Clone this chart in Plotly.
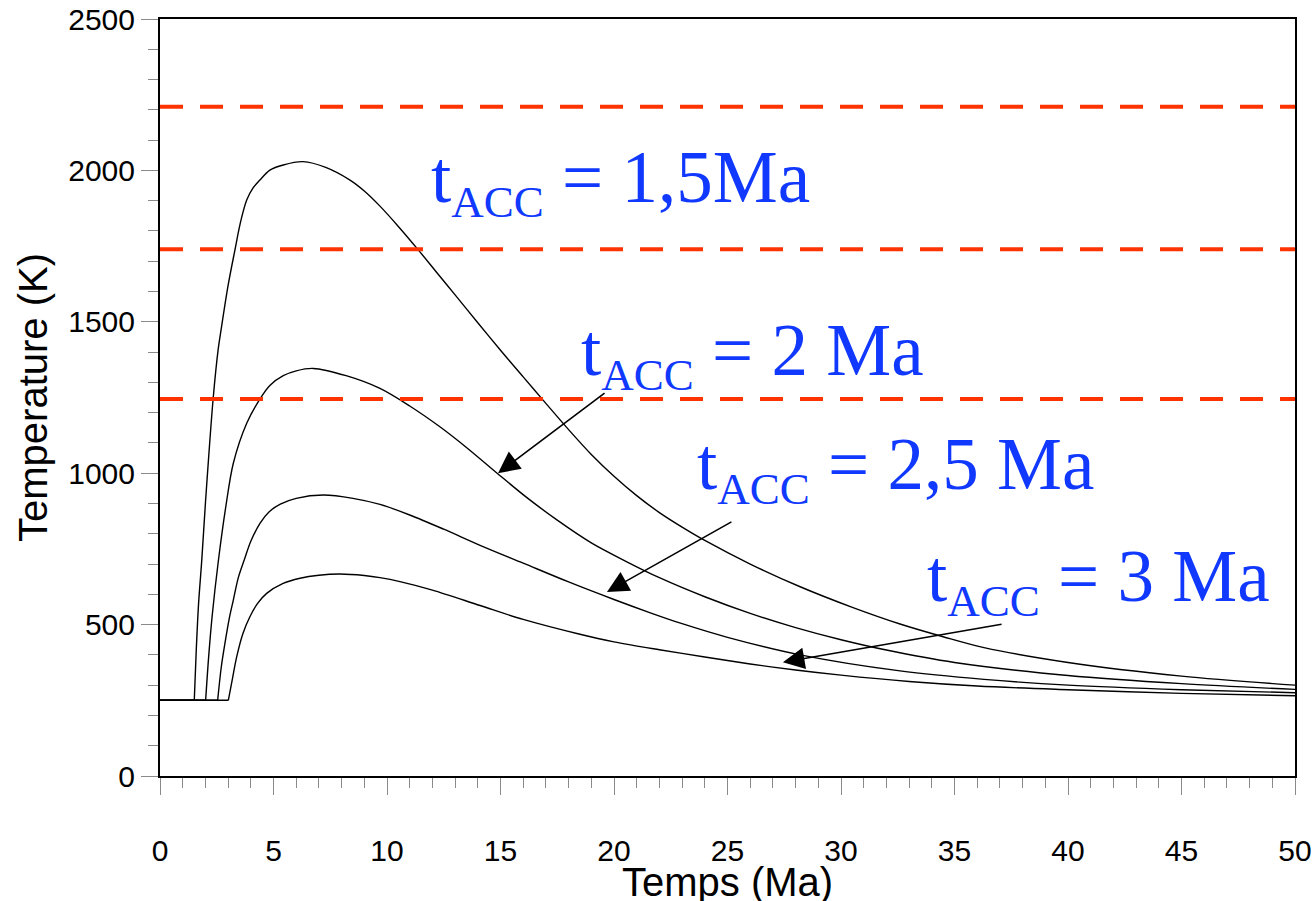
import plotly.graph_objects as go

# Thermal histories (time in Ma, temperature in K) for four accretion times
t_15 = [0, 1.51, 1.6, 1.7, 1.84, 2.0, 2.15, 2.34, 2.56, 2.69, 3.0, 3.3, 3.55, 3.82, 4.1, 4.4, 4.84, 5.43, 6.3,
        7.3, 8.37, 9.0, 9.69, 10.5, 11.35, 12.2, 13, 14, 15, 16, 16.8, 18, 19, 20, 21, 22, 23, 24,
        26, 28.2, 30.5, 32.6, 34.5, 36.3, 40, 45, 50]
T_15 = [250, 250, 420, 570, 713, 900, 1060, 1245, 1407, 1473, 1620, 1737, 1830, 1902, 1942, 1968, 2001, 2018, 2029,
        2010, 1968, 1932, 1882, 1815, 1740, 1662, 1589, 1497, 1406, 1318, 1248, 1144, 1062, 990, 926, 870, 822, 778,
        700, 625, 557, 502, 460, 424, 375, 330, 300]

t_20 = [0, 2.01, 2.15, 2.3, 2.57, 2.9, 3.23, 3.82, 4.4, 4.84, 5.43, 6.0, 6.75, 8.2, 9.69, 11, 12.3, 13.5,
        14.85, 16.15, 17.5, 19, 20.5, 22, 24, 26, 28, 30, 32, 35, 40, 45, 50]
T_20 = [250, 250, 400, 530, 710, 890, 1033, 1165, 1245, 1290, 1322, 1338, 1346, 1322, 1280, 1222, 1155, 1085,
        1000, 920, 845, 770, 710, 655, 592, 537, 490, 450, 416, 375, 332, 305, 286]

t_25 = [0, 2.54, 2.7, 2.86, 3.05, 3.23, 3.45, 3.71, 4.0, 4.41, 4.8, 5.3, 6.0, 7.2, 8.5, 9.69, 11, 12.5,
        14.1, 16, 18, 20, 21.6, 23, 25, 28.2, 32.6, 36.3, 40, 45, 50]
T_25 = [250, 250, 360, 438, 520, 581, 655, 713, 775, 835, 872, 898, 917, 928, 917, 897, 862, 815,
        762, 703, 641, 583, 539, 503, 458, 400, 347, 319, 300, 285, 275]

t_30 = [0, 3.01, 3.15, 3.38, 3.65, 3.96, 4.3, 4.7, 5.4, 6.17, 7.0, 7.93, 9.0, 9.69, 10.57, 12, 14.1,
        16, 18.5, 20, 22, 24, 26, 28, 30, 33, 36, 40, 45, 50]
T_30 = [250, 250, 305, 394, 470, 526, 570, 603, 635, 653, 663, 667, 662, 655, 642, 614, 563,
        517, 468, 443, 417, 393, 370, 350, 333, 312, 297, 285, 273, 265]

# Threshold temperatures (dashed lines)
seuils = [2210, 1740, 1245]

# Curve labels and arrow geometry: (tail x, tail T, head x, head T)
sub = "t<sub><span style='font-size:45px'>ACC</span></sub>"
etiquettes = [sub + " = 1,5Ma", sub + " = 2 Ma", sub + " = 2,5 Ma", sub + " = 3 Ma"]
etiquette_x = [11.86, 18.45, 23.58, 33.72]
etiquette_y = [1808, 1236, 859, 490]
fleches = [(19.65, 1268, 14.89, 1000), (25.24, 842, 19.69, 608), (37.14, 502, 27.44, 376)]

x_ticks = list(range(0, 51, 5))
y_ticks = list(range(0, 2501, 500))

fig = go.Figure()

for t, T in [(t_15, T_15), (t_20, T_20), (t_25, T_25), (t_30, T_30)]:
    # flat initial segment, then the smooth heating / cooling path
    fig.add_trace(go.Scatter(x=t[:2], y=T[:2], mode="lines", line=dict(color="black", width=1.4),
                             showlegend=False, hoverinfo="skip"))
    fig.add_trace(go.Scatter(x=t[1:], y=T[1:], mode="lines",
                             line=dict(color="black", width=1.4, shape="spline", smoothing=0.9),
                             showlegend=False, hoverinfo="skip"))

for s in seuils:
    fig.add_trace(go.Scatter(x=[0, 50], y=[s, s], mode="lines",
                             line=dict(color="#FF3300", width=4, dash="23px,17px"),
                             showlegend=False, hoverinfo="skip"))

label_font = dict(family="Liberation Serif, Times New Roman, serif", size=73, color="#1038FF")
for txt, lx, ly in zip(etiquettes, etiquette_x, etiquette_y):
    fig.add_annotation(x=lx, y=ly, xref="x", yref="y", text=txt, showarrow=False,
                       xanchor="left", yanchor="bottom", font=label_font)

for tx, ty, hx, hy in fleches:
    fig.add_annotation(x=hx, y=hy, ax=tx, ay=ty, xref="x", yref="y", axref="x", ayref="y",
                       text="", showarrow=True, arrowhead=2, arrowsize=2.7, arrowwidth=1.6,
                       arrowcolor="black", standoff=0)

tick_font = dict(family="Liberation Sans, Arial, sans-serif", size=30, color="black")
title_font = dict(family="Liberation Sans, Arial, sans-serif", size=40, color="black")
axis_common = dict(showline=True, linecolor="black", linewidth=2, mirror=True, ticks="outside",
                   ticklen=17, tickwidth=1.2, tickcolor="#8a8a8a", showgrid=False, zeroline=False,
                   tickfont=tick_font, automargin=False)

fig.update_xaxes(range=[0, 50], tickvals=x_ticks, ticktext=[str(v) for v in x_ticks],
                 minor=dict(dtick=1, ticks="outside", ticklen=10, tickcolor="#8a8a8a", tickwidth=1.2),
                 ticklabelstandoff=30,
                 **axis_common)
fig.update_yaxes(range=[0, 2500], tickvals=y_ticks, ticktext=[str(v) for v in y_ticks],
                 minor=dict(dtick=100, ticks="outside", ticklen=10, tickcolor="#8a8a8a", tickwidth=1.2),
                 title=dict(text="Temperature (K)", font=title_font, standoff=8),
                 **axis_common)

# x-axis title placed just below the tick labels
fig.add_annotation(text="Temps (Ma)", xref="paper", yref="paper", x=0.5, y=-0.1405,
                   xanchor="center", yanchor="middle", showarrow=False, font=title_font)

fig.update_layout(width=1316, height=901, margin=dict(l=160, r=21, t=19, b=125),
                  plot_bgcolor="white", paper_bgcolor="white")

fig.write_html("out.html")
